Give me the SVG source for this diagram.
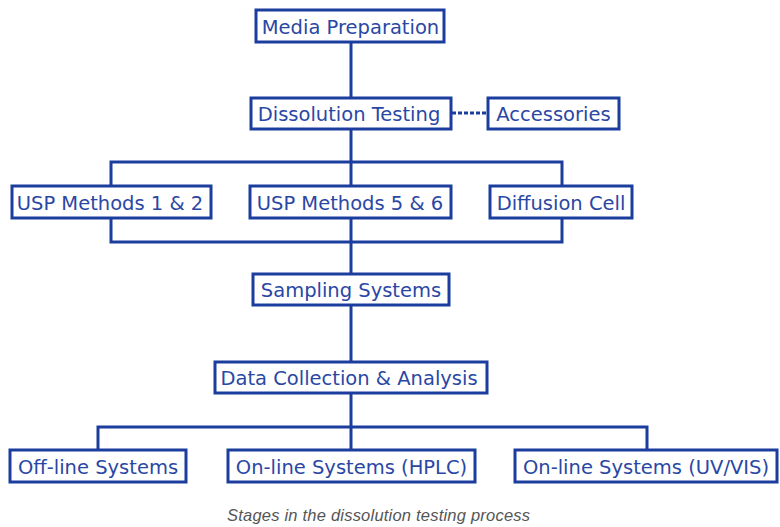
<svg xmlns="http://www.w3.org/2000/svg" width="780" height="527" viewBox="0 0 780 527">
  <style>
    .box { fill: #ffffff; stroke: #1a3d9e; stroke-width: 3; }
    .lbl { font-family: "DejaVu Sans", Verdana, sans-serif; font-size: 19.5px; fill: #2a47a4; text-anchor: middle; }
    .wire { fill: none; stroke: #1a3d9e; stroke-width: 3; stroke-linecap: square; }
    .dots { fill: none; stroke: #1a3d9e; stroke-width: 3; stroke-dasharray: 4 2; }
    .caption { font-family: "Liberation Sans", Arial, sans-serif; font-style: italic; font-size: 16.5px; fill: #555555; text-anchor: middle; }
  </style>
  <rect width="780" height="527" fill="#ffffff"/>

  <!-- connectors -->
  <g id="connectors">
    <path class="wire" d="M351 42 V98"/>
    <path class="wire" d="M351 129 V186"/>
    <path class="wire" d="M111 186 V162 H562 V186"/>
    <path class="wire" d="M111 218 V242 H562 V218"/>
    <path class="wire" d="M351 218 V274"/>
    <path class="wire" d="M351 305 V362"/>
    <path class="wire" d="M351 393 V450"/>
    <path class="wire" d="M98 450 V427 H647 V450"/>
    <path class="dots" d="M452 113 H487"/>
  </g>

  <g id="media-preparation">
    <rect class="box" x="256" y="10" width="188" height="32"/>
    <text class="lbl" x="350.5" y="34">Media Preparation</text>
  </g>
  <g id="dissolution-testing">
    <rect class="box" x="251" y="98" width="200" height="31"/>
    <text class="lbl" x="349" y="121">Dissolution Testing</text>
  </g>
  <g id="accessories">
    <rect class="box" x="488" y="98" width="131" height="31"/>
    <text class="lbl" x="553.5" y="121">Accessories</text>
  </g>
  <g id="usp-methods-1-2">
    <rect class="box" x="12" y="186" width="199" height="32"/>
    <text class="lbl" x="110" y="210">USP Methods 1 &amp; 2</text>
  </g>
  <g id="usp-methods-5-6">
    <rect class="box" x="250" y="186" width="201" height="32"/>
    <text class="lbl" x="350" y="210">USP Methods 5 &amp; 6</text>
  </g>
  <g id="diffusion-cell">
    <rect class="box" x="490" y="186" width="142" height="32"/>
    <text class="lbl" x="561" y="210">Diffusion Cell</text>
  </g>
  <g id="sampling-systems">
    <rect class="box" x="253" y="274" width="196" height="31"/>
    <text class="lbl" x="351" y="297">Sampling Systems</text>
  </g>
  <g id="data-collection">
    <rect class="box" x="215" y="362" width="272" height="31"/>
    <text class="lbl" x="349" y="385">Data Collection &amp; Analysis</text>
  </g>
  <g id="off-line-systems">
    <rect class="box" x="10" y="450" width="176" height="32"/>
    <text class="lbl" x="98" y="474">Off-line Systems</text>
  </g>
  <g id="on-line-hplc">
    <rect class="box" x="228" y="450" width="247" height="32"/>
    <text class="lbl" x="351.5" y="474">On-line Systems (HPLC)</text>
  </g>
  <g id="on-line-uv-vis">
    <rect class="box" x="515" y="450" width="262" height="32"/>
    <text class="lbl" x="646" y="474">On-line Systems (UV/VIS)</text>
  </g>

  <text class="caption" x="378.5" y="521" textLength="303" lengthAdjust="spacing">Stages in the dissolution testing process</text>
</svg>
